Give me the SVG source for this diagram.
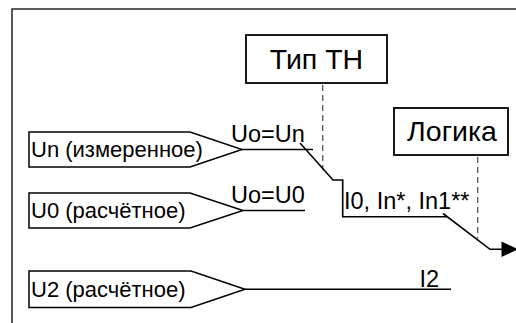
<svg xmlns="http://www.w3.org/2000/svg" width="516" height="323" viewBox="0 0 516 323">
<style>
text{font-family:"Liberation Sans",Arial,sans-serif;fill:#000}
.title{font-size:28.5px;text-anchor:middle}
.in{font-size:22px}
.lbl{font-size:23.5px}
.box{fill:#fff;stroke:#000;stroke-width:1.8}
.shape{fill:#fff;stroke:#000;stroke-width:1.5}
.wire{fill:none;stroke:#000;stroke-width:1.6}
.dash{fill:none;stroke:#555;stroke-width:1.3;stroke-dasharray:6 4}
</style>
<rect x="12" y="9" width="520" height="330" fill="#fff" stroke="#333" stroke-width="1.6"/>
<g id="connectors">
<path class="dash" d="M322.7,85 V170"/>
<path class="dash" d="M477.7,157 V238.5"/>
<path class="wire" d="M242,149.5 H313"/>
<path class="wire" d="M300,143 L333,180 H342.7 V216.7 H447"/>
<path class="wire" d="M443,213.5 L490,249.3 H503"/>
<polygon points="501.5,241.5 518,249.3 501.5,257" fill="#000"/>
<path class="wire" d="M243,210.5 H305"/>
<path class="wire" d="M245,289.3 H451"/>
</g>
<g id="tip-tn">
<rect class="box" x="246" y="35" width="141" height="48"/>
<text class="title" x="316.5" y="69">Тип ТН</text>
</g>
<g id="logika">
<rect class="box" x="394" y="108" width="114" height="47"/>
<text class="title" x="452" y="140.7">Логика</text>
</g>
<g id="un">
<polygon class="shape" points="29,132 190,132 242,149.5 190,167 29,167"/>
<text class="in" x="31" y="157">Un (измеренное)</text>
</g>
<g id="u0">
<polygon class="shape" points="29,193 190,193 243,210.5 190,228 29,228"/>
<text class="in" x="31" y="218">U0 (расчётное)</text>
</g>
<g id="u2">
<polygon class="shape" points="29,271 191,271 245,289.3 191,307.5 29,307.5"/>
<text class="in" x="31" y="297">U2 (расчётное)</text>
</g>
<g id="labels">
<text class="lbl" x="231" y="141.7">Uo=Un</text>
<text class="lbl" x="231" y="203">Uo=U0</text>
<text class="lbl" x="344" y="208.5">I0, In*, In1**</text>
<text class="lbl" x="419.5" y="286.5">I2</text>
</g>
</svg>
